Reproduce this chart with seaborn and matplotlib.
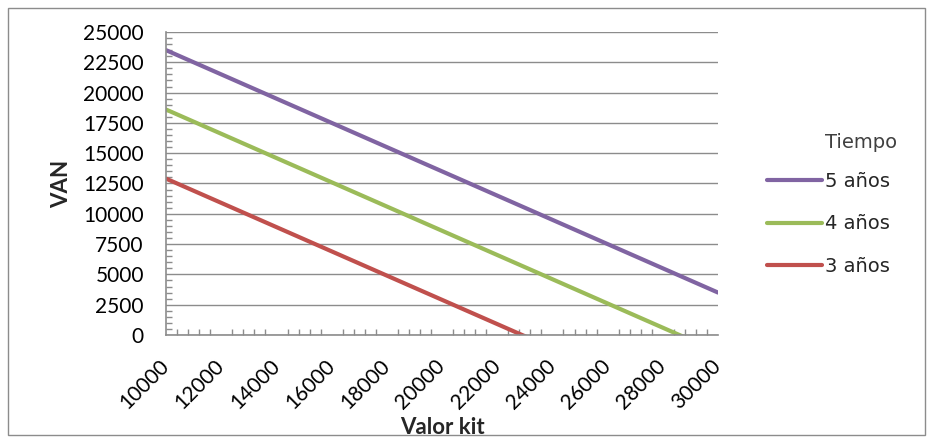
import pandas as pd
import seaborn as sns
import matplotlib.pyplot as plt
from matplotlib.patches import Rectangle
from matplotlib.ticker import MultipleLocator

# datos
valor_kit = [10000, 12000, 14000, 16000, 18000, 20000, 22000, 24000, 26000, 28000, 30000]
van_5 = [23500, 21500, 19500, 17500, 15500, 13500, 11500, 9500, 7500, 5500, 3500]
van_4 = [18600, 16600, 14600, 12600, 10600, 8600, 6600, 4600, 2600, 600, -1400]
van_3 = [12900, 10900, 8900, 6900, 4900, 2900, 900, -1100, -3100, -5100, -7100]
series = ["5 años", "4 años", "3 años"]
colores = ["#8064A2", "#9BBB59", "#C0504D"]

df = pd.DataFrame({
    "Valor kit": valor_kit * 3,
    "VAN": van_5 + van_4 + van_3,
    "Tiempo": [s for s in series for _ in valor_kit],
})

sns.set_style("white")
plt.rcParams["font.family"] = ["Lato", "DejaVu Sans"]

fig = plt.figure(figsize=(9.33, 4.43), dpi=100)
ax = fig.add_axes([0.178, 0.2438, 0.5916, 0.684])

sns.lineplot(data=df, x="Valor kit", y="VAN", hue="Tiempo", hue_order=series,
             palette=colores, linewidth=3, ax=ax, legend=True)

ax.set_xlim(10000, 30000)
ax.set_ylim(0, 25000)
ax.xaxis.set_major_locator(MultipleLocator(2000))
ax.xaxis.set_minor_locator(MultipleLocator(400))
ax.yaxis.set_major_locator(MultipleLocator(2500))
ax.yaxis.set_minor_locator(MultipleLocator(500))
ax.grid(axis="y", color="#8c8c8c", linewidth=1)
ax.grid(axis="x", visible=False)

gris = "#8c8c8c"
for s in ["top", "right"]:
    ax.spines[s].set_visible(False)
for s in ["left", "bottom"]:
    ax.spines[s].set_color(gris)
    ax.spines[s].set_linewidth(1.2)

ax.tick_params(axis="x", which="major", direction="inout", length=10, color=gris,
               width=1.2, pad=15)
ax.tick_params(axis="y", which="major", direction="out", length=6, color=gris,
               width=1, pad=10)
ax.tick_params(which="minor", direction="in", length=4, color=gris, width=1)
ax.tick_params(axis="x", which="minor", bottom=True)
ax.tick_params(axis="y", which="minor", left=True)
ax.tick_params(labelsize=15, colors=gris, labelcolor="black")

plt.setp(ax.get_xticklabels(), rotation=45, ha="right", va="center",
         rotation_mode="anchor")

ax.set_xlabel("Valor kit", fontsize=16, fontweight="bold")
ax.xaxis.set_label_coords(0.5, -0.27)
ax.set_ylabel("VAN", fontsize=16, fontweight="bold", labelpad=8)

leg = ax.legend(frameon=False, loc="upper left",
                bbox_to_anchor=(767 / 933, 1 - 172 / 443), bbox_transform=fig.transFigure,
                prop={"family": "DejaVu Sans", "size": 14},
                handlelength=2.85, handletextpad=0.15, labelspacing=1.2,
                borderpad=0, borderaxespad=0)
for t in leg.get_texts():
    t.set_color("#262626")
fig.text(825 / 933, 1 - 142 / 443, "Tiempo", family="DejaVu Sans", fontsize=14,
         color="#404040", ha="left", va="center")

fig.patches.append(Rectangle((8 / 933, 8 / 443), 917 / 933, 427 / 443,
                             transform=fig.transFigure, fill=False,
                             edgecolor="#8c8c8c", linewidth=1))

fig.savefig("out.png", dpi=100)
